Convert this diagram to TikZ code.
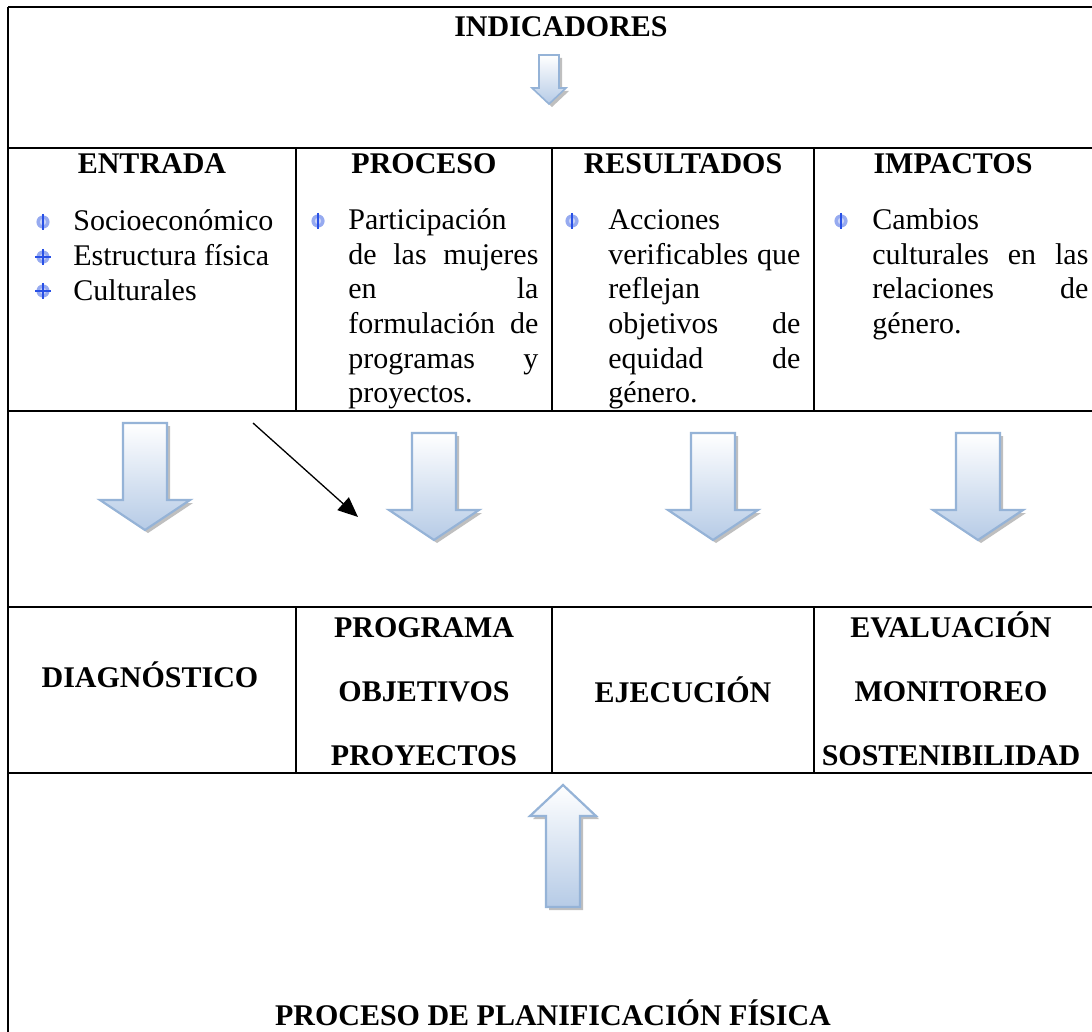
\documentclass[tikz,border=0pt]{standalone}
\usepackage{fontspec}
\setmainfont{Liberation Serif}
\usetikzlibrary{arrows.meta,calc}
\definecolor{arrline}{RGB}{149,179,215}
\definecolor{arrfill}{RGB}{182,203,230}
\definecolor{bulblue}{RGB}{40,80,230}
\definecolor{bulfill}{RGB}{150,170,240}
% arrow outline: centre x, start y, half shaft, half head, head base y, tip y
\newcommand{\arrpath}[6]{(#1-#3,#2) -- (#1+#3,#2) -- (#1+#3,#5) -- (#1+#4,#5) -- (#1,#6) -- (#1-#4,#5) -- (#1-#3,#5) -- cycle}
\newcommand{\blockarrow}[7]{%
  \fill[arrshadow] [shift={(3,3)}] \arrpath{#1}{#2}{#3}{#4}{#5}{#6};
  \path[arrshape,line width=#7] \arrpath{#1}{#2}{#3}{#4}{#5}{#6};}
\newcommand{\phibullet}[2]{%
  \fill[bulfill] (#1,#2) circle (3.3pt);
  \fill[white,opacity=0.5] (#1,#2) circle (1.6pt);
  \draw[bulblue,line width=1.2pt] (#1,#2-8) -- (#1,#2+8);}
\newcommand{\crossbullet}[2]{%
  \fill[bulfill] (#1,#2) circle (3.3pt);
  \fill[white,opacity=0.5] (#1,#2) circle (1.6pt);
  \draw[bulblue,line width=1.2pt] (#1,#2-8) -- (#1,#2+8) (#1-8,#2) -- (#1+8,#2);}
\begin{document}
\begin{tikzpicture}[x=0.5pt,y=-0.5pt,
  txt/.style={font=\fontsize{15}{17.25}\selectfont,inner sep=0pt,anchor=base west},
  hdr/.style={font=\fontsize{15}{17.25}\selectfont\bfseries,inner sep=0pt,anchor=base},
  hline/.style={line width=1pt},
  vline/.style={line width=0.75pt},
  arrshape/.style={draw=arrline,line join=miter,top color=white,bottom color=arrfill},
  arrshadow/.style={fill=gray,opacity=0.5},
  conn/.style={line width=0.65pt,-{Triangle[length=10pt,width=8.5pt]}}]
\useasboundingbox (0,0) rectangle (1092,1032);
\fill[white] (0,0) rectangle (1092,1032);

% table lines
\draw[vline] (8,7) -- (8,1032);
\draw[line width=0.8pt] (8,7) -- (1092,7);
\foreach \yy in {148,411,607,773} \draw[hline] (8,\yy) -- (1092,\yy);
\foreach \xx in {296,552,814} {
  \draw[vline] (\xx,148) -- (\xx,411);
  \draw[vline] (\xx,607) -- (\xx,773);}

% row 1
\node[hdr] (ind) at (561,37) {INDICADORES};
\blockarrow{549}{55}{10}{17}{88}{104}{0.8pt}

% row 2 headers
\node[hdr] (entrada) at (152,174) {ENTRADA};
\node[hdr] (proceso) at (424,174) {PROCESO};
\node[hdr] (result) at (683,174) {RESULTADOS};
\node[hdr] (impact) at (953,174) {IMPACTOS};

% ENTRADA items
\phibullet{43}{222}
\crossbullet{43}{257}
\crossbullet{43}{291}
\node[txt] (e1) at (73,231) {Socioeconómico};
\node[txt] (e2) at (73,265.5) {Estructura física};
\node[txt] (e3) at (73,300) {Culturales};

% PROCESO items
\phibullet{318}{221}
\node[txt] (p1) at (348,230) {Participación};
\node[txt] (p2) at (348,264.5) {\makebox[95pt][s]{de las mujeres}};
\node[txt] (p3) at (348,299) {\makebox[95pt][s]{en\hfill la}};
\node[txt] (p4) at (348,333.5) {\makebox[95pt][s]{formulación de}};
\node[txt] (p5) at (348,368) {\makebox[95pt][s]{programas\hfill y}};
\node[txt] (p6) at (348,402.5) {proyectos.};

% RESULTADOS items
\phibullet{572}{221}
\node[txt] (r1) at (608,230) {Acciones};
\node[txt] (r2) at (608,264.5) {\makebox[96pt][s]{verificables que}};
\node[txt] (r3) at (608,299) {reflejan};
\node[txt] (r4) at (608,333.5) {\makebox[96pt][s]{objetivos\hfill de}};
\node[txt] (r5) at (608,368) {\makebox[96pt][s]{equidad\hfill de}};
\node[txt] (r6) at (608,402.5) {género.};

% IMPACTOS items
\phibullet{841}{221}
\node[txt] (i1) at (872,230) {Cambios};
\node[txt] (i2) at (872,264.5) {\makebox[108pt][s]{culturales en las}};
\node[txt] (i3) at (872,299) {\makebox[108pt][s]{relaciones\hfill de}};
\node[txt] (i4) at (872,333.5) {género.};

% row 3 arrows
\blockarrow{145}{423}{22}{45}{500}{530}{1.1pt}
\blockarrow{434}{433}{22}{45}{510}{540}{1.1pt}
\blockarrow{713}{433}{22}{45}{510}{540}{1.1pt}
\blockarrow{978}{433}{22}{45}{510}{540}{1.1pt}
\coordinate (dstart) at (253,423);
\coordinate (dend) at (358,517);
\draw[conn] (dstart) -- (dend);

% row 4
\node[hdr] (diag) at (150,687) {DIAGNÓSTICO};
\node[hdr] (prog) at (424,637) {PROGRAMA};
\node[hdr] (obj) at (424,701) {OBJETIVOS};
\node[hdr] (proy) at (424,765) {PROYECTOS};
\node[hdr] (ejec) at (683,702) {EJECUCIÓN};
\node[hdr] (eval) at (951,637) {EVALUACIÓN};
\node[hdr] (moni) at (951,701) {MONITOREO};
\node[hdr] (sost) at (951,765) {SOSTENIBILIDAD};

% row 5
\blockarrow{563}{907}{17}{33}{816}{785}{1.1pt}
\node[hdr] (plan) at (553,1025) {PROCESO DE PLANIFICACIÓN FÍSICA};
\end{tikzpicture}
\end{document}
